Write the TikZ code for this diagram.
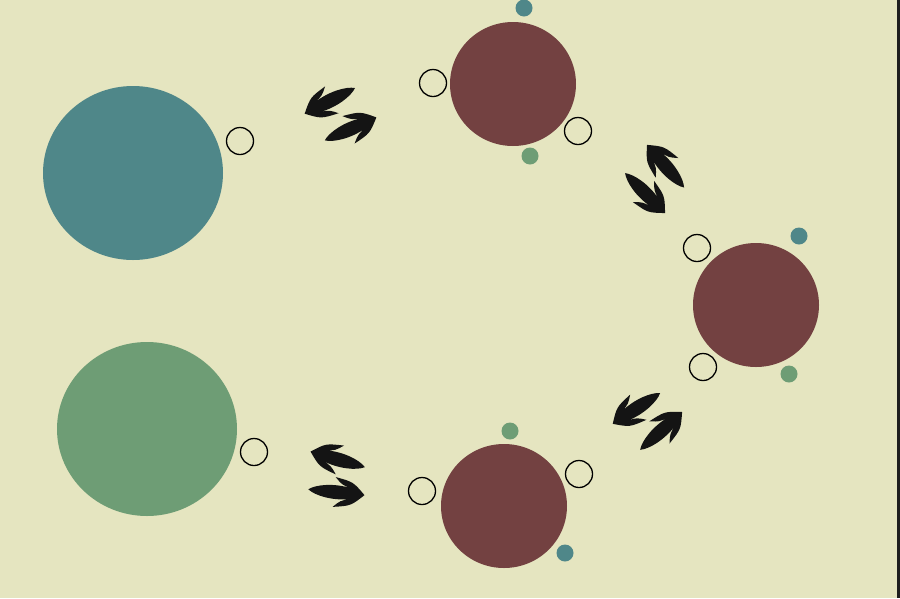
\documentclass[tikz,border=0pt]{standalone}
\usetikzlibrary{shapes.geometric}
\definecolor{bg}{RGB}{229,229,192}
\definecolor{tealc}{RGB}{79,135,137}
\definecolor{greenc}{RGB}{110,157,117}
\definecolor{maroon}{RGB}{115,65,65}
\definecolor{edge}{RGB}{30,30,30}
\tikzset{
  bigdisc/.style={ellipse,inner sep=0pt,minimum width=180pt,minimum height=174pt,draw=none},
  meddisc/.style={ellipse,inner sep=0pt,minimum width=126pt,minimum height=124pt,fill=maroon,draw=none},
  ring/.style={circle,inner sep=0pt,minimum size=27pt,draw=black,line width=1.3pt},
  dot/.style={circle,inner sep=0pt,minimum size=17pt,draw=none},
  harrow/.pic={
    \fill[black!92] (1.5,0) .. controls (-11,-12) .. (-29,-15)
      .. controls (-22,-8) .. (-13,-5.5)
      .. controls (-30,-9) and (-48,-5.5) .. (-55,0)
      .. controls (-48,5.5) and (-30,9) .. (-13,5.5)
      .. controls (-22,8) .. (-29,15)
      .. controls (-11,12) .. (1.5,0) -- cycle;
  }
}
\begin{document}
\begin{tikzpicture}[x=1pt,y=-1pt]
\useasboundingbox (0,0) rectangle (900,598);
\fill[bg] (0,0) rectangle (900,598);
\fill[edge] (897,0) rectangle (900,598);
% big discs
\node[bigdisc,fill=tealc] (T) at (133,173) {};
\node[ring] (Tr) at (240,141) {};
\node[bigdisc,fill=greenc] (G) at (147,429) {};
\node[ring] (Gr) at (254,452) {};
% top maroon
\node[meddisc] (M1) at (513,84) {};
\node[ring] (M1a) at (433,83) {};
\node[ring] (M1b) at (578,131) {};
\node[dot,fill=tealc] (M1t) at (524,8) {};
\node[dot,fill=greenc] (M1g) at (530,156) {};
% right maroon
\node[meddisc] (M2) at (756,305) {};
\node[ring] (M2a) at (697,248) {};
\node[ring] (M2b) at (703,367) {};
\node[dot,fill=tealc] (M2t) at (799,236) {};
\node[dot,fill=greenc] (M2g) at (789,374) {};
% bottom maroon
\node[meddisc] (M3) at (504,506) {};
\node[ring] (M3a) at (422,491) {};
\node[ring] (M3b) at (579,474) {};
\node[dot,fill=greenc] (M3g) at (510,431) {};
\node[dot,fill=tealc] (M3t) at (565,553) {};
% arrows (tip positions)
\coordinate (a1) at (306,113);
\coordinate (b1) at (375,118);
\coordinate (a2) at (648,146);
\coordinate (b2) at (664,212);
\coordinate (a3) at (614,423);
\coordinate (b3) at (681,413);
\coordinate (a4) at (312,452);
\coordinate (b4) at (363,495);
\path (a1) pic[rotate=207] {harrow};
\path (b1) pic[rotate=24] {harrow};
\path (a2) pic[rotate=131] {harrow};
\path (b2) pic[rotate=-45] {harrow};
\path (a3) pic[rotate=213] {harrow};
\path (b3) pic[rotate=42] {harrow};
\path (a4) pic[rotate=164] {harrow};
\path (b4) pic[rotate=-6] {harrow};
\end{tikzpicture}
\end{document}
